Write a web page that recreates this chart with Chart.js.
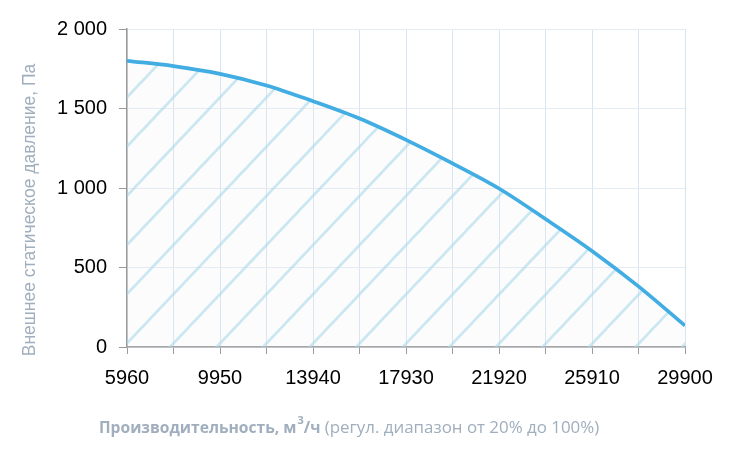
<!DOCTYPE html>
<html lang="ru">
<head>
<meta charset="utf-8">
<script src="https://cdn.jsdelivr.net/npm/chart.js@4.4.1/dist/chart.umd.min.js"></script>
<style>
  html, body { margin: 0; padding: 0; background: #fff; }
  #chart { display: block; }
</style>
</head>
<body>
<canvas id="chart" width="730" height="456"></canvas>
<script>
/* ---------- DATA ---------- */

const airflow = [5960, 7955, 9950, 11945, 13940, 15935, 17930, 19925, 21920, 23915, 25910, 27905, 29900];
const pressure = [1800, 1767, 1718, 1645, 1546, 1437, 1303, 1155, 997, 805, 604, 381, 134];

const xTicks = [5960, 7955, 9950, 11945, 13940, 15935, 17930, 19925, 21920, 23915, 25910, 27905, 29900];
const xTickLabels = ["5960", "", "9950", "", "13940", "", "17930", "", "21920", "", "25910", "", "29900"];
const yTicks = [0, 500, 1000, 1500, 2000];
const yTickLabels = ["0", "500", "1 000", "1 500", "2 000"];

const yTitle = "Внешнее статическое давление, Па";
const xTitleBold = "Производительность, м";
const xTitleSup = "3";
const xTitleUnit = "/ч";
const xTitleRest = " (регул. диапазон от 20% до 100%)";

/* ---------- STYLE ---------- */

const TITLE_COLOR = "#a0aebd";
const LINE_COLOR = "#42ade2";
const TICK_FONT = { family: "'Liberation Sans', Arial, sans-serif", size: 20 };

/* ---------- HATCH PATTERN ---------- */

// tile is drawn as 45deg lines, then squeezed by the pattern transform
// so the hatch is ~46.5px apart across and ~49px apart down
function makeHatch() {
  const size = 100;
  const sx = 0.4655, sy = 0.492;
  const c = document.createElement("canvas");
  c.width = size;
  c.height = size;
  const g = c.getContext("2d");
  g.fillStyle = "rgba(235,238,240,0.15)";
  g.fillRect(0, 0, size, size);
  g.strokeStyle = "rgba(170,216,234,0.6)";
  g.lineWidth = 5.8;
  for (let k = -1; k <= 2; k++) {
    const s = 70.5 + k * size;   // u + w = s
    g.beginPath();
    g.moveTo(s + size, -size);
    g.lineTo(s - 2 * size, 2 * size);
    g.stroke();
  }
  const p = g.createPattern(c, "repeat");
  p.setTransform(new DOMMatrix([sx, 0, 0, sy, 0, 0]));
  return p;
}

/* ---------- PLUGIN: TITLES ---------- */

const axisTitles = {
  id: "axisTitles",
  afterDraw(chart) {
    const { ctx } = chart;
    ctx.save();
    ctx.fillStyle = TITLE_COLOR;
    ctx.textBaseline = "alphabetic";

    // y title
    ctx.save();
    ctx.translate(35, 210);
    ctx.rotate(-Math.PI / 2);
    ctx.font = "17.5px 'Liberation Sans', Arial, sans-serif";
    ctx.textAlign = "center";
    ctx.fillText(yTitle, 0, 0);
    ctx.restore();

    // x title
    let x = 99;
    const base = 433;
    ctx.textAlign = "left";
    ctx.font = "bold 15.6px 'Open Sans', sans-serif";
    ctx.fillText(xTitleBold, x, base);
    x += ctx.measureText(xTitleBold).width + 1;
    ctx.font = "bold 11px 'Open Sans', sans-serif";
    ctx.fillText(xTitleSup, x, base - 9);
    x += ctx.measureText(xTitleSup).width;
    ctx.font = "bold 15.6px 'Open Sans', sans-serif";
    ctx.fillText(xTitleUnit, x, base);
    x += ctx.measureText(xTitleUnit).width;
    ctx.font = "16.9px 'Open Sans', sans-serif";
    ctx.fillText(xTitleRest, x, base);
    ctx.restore();
  }
};

/* ---------- CHART ---------- */

new Chart(document.getElementById("chart"), {
  type: "line",
  data: {
    datasets: [{
      data: airflow.map((x, i) => ({ x, y: pressure[i] })),
      borderColor: LINE_COLOR,
      borderWidth: 3.7,
      backgroundColor: makeHatch(),
      fill: "origin",
      cubicInterpolationMode: "monotone",
      pointRadius: 0
    }]
  },
  options: {
    responsive: false,
    animation: false,
    layout: { padding: { top: 29, right: 45, left: 0, bottom: 0 } },
    plugins: {
      legend: { display: false },
      tooltip: { enabled: false }
    },
    scales: {
      x: {
        type: "linear",
        min: xTicks[0],
        max: xTicks[xTicks.length - 1],
        afterBuildTicks(scale) {
          scale.ticks = xTicks.map(v => ({ value: v }));
        },
        afterFit(scale) { scale.height = 109; },
        ticks: {
          autoSkip: false,
          maxRotation: 0,
          padding: 12,
          color: "#000",
          font: TICK_FONT,
          callback: (v, i) => xTickLabels[i]
        },
        grid: {
          color: "#d8e4f0",
          tickColor: "#9a9a9a",
          tickLength: 7
        },
        border: { color: "#9a9a9a", width: 1.5 }
      },
      y: {
        min: 0,
        max: 2000,
        afterBuildTicks(scale) {
          scale.ticks = yTicks.map(v => ({ value: v }));
        },
        afterFit(scale) { scale.width = 127; },
        ticks: {
          padding: 12,
          color: "#000",
          font: TICK_FONT,
          callback: (v, i) => yTickLabels[i]
        },
        grid: {
          color: "#e3ebf3",
          tickColor: "#9a9a9a",
          tickLength: 8
        },
        border: { color: "#9a9a9a", width: 1.5 }
      }
    }
  },
  plugins: [axisTitles]
});
</script>
</body>
</html>
